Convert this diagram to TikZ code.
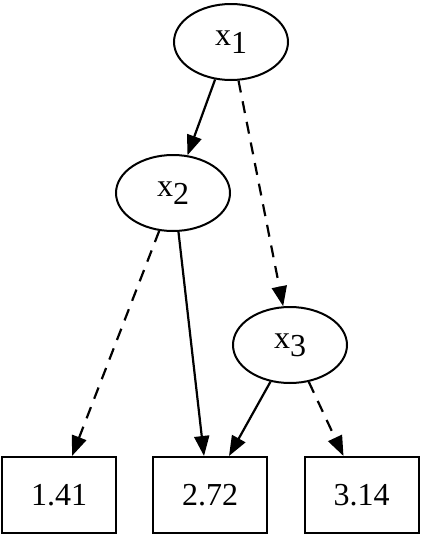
\documentclass[tikz,border=0pt]{standalone}
\usepackage{fontspec}
\setmainfont{Liberation Serif}
\usetikzlibrary{arrows.meta,shapes.geometric}
\tikzset{
  var/.style={ellipse,draw,line width=2pt,minimum width=114pt,minimum height=76pt,inner sep=0pt,font=\fontsize{32}{38}\selectfont},
  leaf/.style={rectangle,draw,line width=2pt,minimum width=114pt,minimum height=76pt,inner sep=0pt,font=\fontsize{32}{38}\selectfont},
  edge/.style={line width=2.2pt,-{Triangle[length=20pt,width=15pt,fill=black]}},
  dedge/.style={edge,dash pattern=on 12pt off 9pt}
}
\newcommand{\xsub}[1]{x\raisebox{-8pt}{#1}}
\begin{document}
\begin{tikzpicture}[x=1pt,y=-1pt]
\useasboundingbox (0,0) rectangle (422,536);
\node[var] (x1) at (231,42) {\xsub{1}};
\node[var] (x2) at (173,193) {\xsub{2}};
\node[var] (x3) at (290,345) {\xsub{3}};
\node[leaf] (a) at (59,495) {1.41};
\node[leaf] (b) at (210,495) {2.72};
\node[leaf] (c) at (361.5,495) {3.14};
\draw[edge] (x1.247) -- (x2.69);
\draw[dedge] (x1.281) -- (x3.100);
\draw[dedge] (x2.250) -- ([xshift=71pt]a.north west);
\draw[edge] (x2.278) -- ([xshift=52pt]b.north west);
\draw[edge] (x3.242) -- ([xshift=77pt]b.north west);
\draw[dedge] (x3.297) -- ([xshift=40pt]c.north west);
\end{tikzpicture}
\end{document}
